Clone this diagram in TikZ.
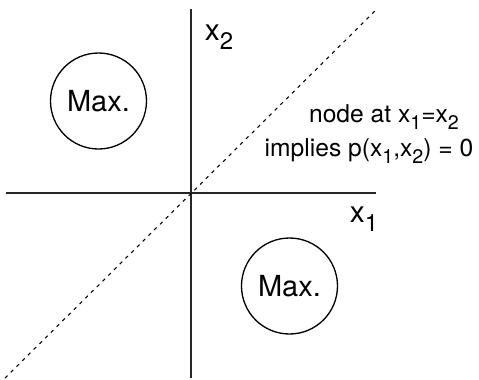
\documentclass[tikz,border=0pt]{standalone}
\usepackage{fontspec}
\setmainfont{TeX Gyre Heros}
\newcommand{\lowsub}[1]{\raisebox{-0.55ex}{\scalebox{0.8}{#1}}}
\tikzset{
  axis/.style={line width=1.1pt, black!85},
  diag/.style={line width=0.6pt, dash pattern=on 2pt off 2.6pt},
  maxreg/.style={circle, draw, line width=0.75pt, minimum size=1.92cm, inner sep=0pt,
    font=\fontsize{16.5}{20}\selectfont},
  axlabel/.style={font=\fontsize{17}{20}\selectfont},
  note/.style={font=\fontsize{14}{17}\selectfont}
}
\begin{document}
\begin{tikzpicture}
    \useasboundingbox (-3.82,-3.72) rectangle (5.76,3.86);
    % axes
    \draw[axis] (0,3.68) -- (0,-3.70);
    \draw[axis] (-3.70,0) -- (3.70,0);
    \node[axlabel] (lx2) at (0.56,3.12) {x\lowsub{2}};
    \node[axlabel] (lx1) at (3.46,-0.52) {x\lowsub{1}};
    % diagonal x_1 = x_2
    \draw[diag] (-3.72,-3.70) -- (3.70,3.66);
    % the two maxima
    \node[maxreg] (maxA) at (-1.85,1.84) {Max.};
    \node[maxreg] (maxB) at (1.97,-1.86) {Max.};
    % remark
    \node[note] (noteA) at (3.86,1.52) {node at x\lowsub{1}=x\lowsub{2}};
    \node[note] (noteB) at (3.56,0.84) {implies p(x\lowsub{1},x\lowsub{2}) = 0};
\end{tikzpicture}
\end{document}
